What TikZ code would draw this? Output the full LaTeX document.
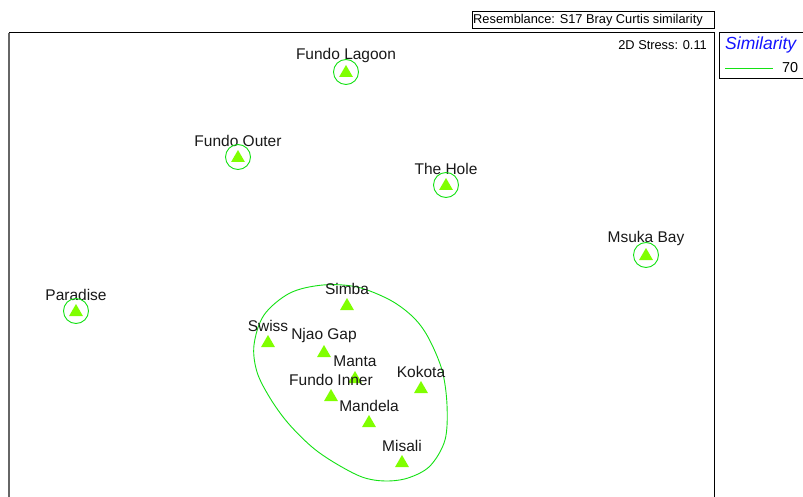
\documentclass[tikz,border=0pt]{standalone}
\usepackage{fontspec}
\setmainfont{Liberation Sans}
\usetikzlibrary{shapes.geometric}
\definecolor{tri}{RGB}{128,255,0}
\definecolor{grp}{RGB}{20,225,20}
\definecolor{simblue}{RGB}{20,20,255}
\tikzset{
  site/.style={regular polygon, regular polygon sides=3, fill=tri, draw=none, minimum size=16pt, inner sep=0pt},
  lab/.style={font=\fontsize{15.5}{18}\selectfont, inner sep=0pt, text=black!90},
  ring/.style={draw=grp, line width=0.9pt},
  frame/.style={draw=black, line width=1pt},
  small/.style={font=\fontsize{12.8}{15}\selectfont, inner sep=0pt}
}
\begin{document}
\begin{tikzpicture}[x=1pt,y=-1pt]
\useasboundingbox (0,0) rectangle (803,497);
\fill[white] (0,0) rectangle (803,497);
% frames
\draw[frame, draw=black!60, line width=1.6pt] (9,520) -- (9,33);
\draw[frame] (9,33) -- (714,33) -- (714,520);
\draw[frame] (719,33) -- (803,33);
\draw[frame] (803,79) -- (719,79) -- (719,33);
\node[frame, draw, minimum width=242pt, minimum height=17pt, inner sep=0pt] (res) at (593,20) {};
\node[small, anchor=center] (restxt) at (588,20.5) {Resemblance: S17 Bray Curtis similarity};
\node[small, anchor=east] (stress) at (707,45) {2D Stress: 0.11};
% legend
\node[font=\fontsize{17.5}{20}\selectfont\itshape, text=simblue, anchor=west, inner sep=0pt] (simlab) at (725,45) {Similarity};
\coordinate (l1) at (725,68);
\coordinate (l2) at (773,68);
\draw[grp, line width=0.9pt] (l1) -- (l2);
\node[font=\fontsize{14.4}{17}\selectfont, anchor=west, inner sep=0pt] (seventy) at (782,68) {70};
% group outline
\draw[ring] plot[smooth cycle, tension=0.55] coordinates {
  (323,285) (357,287) (390,300) (413,317) (428,337) (442,370) (447,405) (445,440) (430,466) (408,478) (385,481) (362,477) (335,463) (312,447) (288,423) (270,398) (257,372) (254,345) (264,315) (290,293)};
% sites
\foreach \n/\x/\y/\t in {
  lagoon/346/73/Fundo Lagoon,
  outer/238/158/Fundo Outer,
  hole/446/186/The Hole,
  msuka/646/256/Msuka Bay,
  paradise/76/312/Paradise,
  simba/347/306/Simba,
  swiss/268/343/Swiss,
  njao/324/353/Njao Gap,
  manta/355/379/Manta,
  inner/331/397/Fundo Inner,
  kokota/421/389/Kokota,
  mandela/369/423/Mandela,
  misali/402/463/Misali}{
  \node[site] (\n) at (\x,\y) {};
  \node[lab] (\n-l) at (\x,\y-17.5) {\t};
}
\foreach \n in {lagoon,outer,hole,msuka,paradise}{
  \draw[ring] ([yshift=1pt]\n.center) circle[radius=12.5];
}
\end{tikzpicture}
\end{document}
